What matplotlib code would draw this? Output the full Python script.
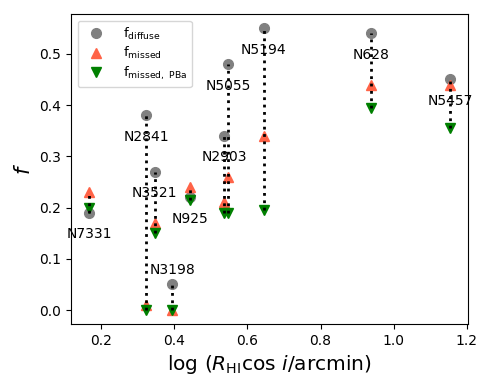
import matplotlib
matplotlib.use('Agg')
import matplotlib.pyplot as plt
import numpy as np

# Galaxy data
names = ['N7331', 'N2841', 'N3521', 'N3198', 'N925', 'N2903',
         'N5055', 'N5194', 'N628', 'N5457']
log_r = [0.167, 0.323, 0.346, 0.394, 0.442, 0.537, 0.547, 0.645, 0.937, 1.154]
f_diffuse = [0.19, 0.38, 0.27, 0.05, 0.22, 0.34, 0.48, 0.55, 0.54, 0.45]
f_missed = [0.23, 0.01, 0.17, 0.00, 0.24, 0.21, 0.26, 0.34, 0.44, 0.44]
f_missed_pba = [0.20, 0.00, 0.15, 0.00, 0.215, 0.19, 0.19, 0.195, 0.395, 0.355]

# label offset: most names sit below the diffuse point, N3198 above
label_dy = [-0.042] * len(names)
label_dy[names.index('N3198')] = 0.028

fig = plt.figure(figsize=(4.91, 3.92), dpi=100)
ax = fig.add_axes([0.145, 0.173, 0.808, 0.791])

ax.plot(log_r, f_diffuse, 'o', color='gray', markersize=7, label=r'$\rm f_{diffuse}$')
ax.plot(log_r, f_missed, '^', color='tomato', markersize=7, label=r'$\rm f_{missed}$')
ax.plot(log_r, f_missed_pba, 'v', color='green', markersize=7, label=r'$\rm f_{missed,\ PBa}$')

# dotted connectors on top of the markers
for x, a, b, c in zip(log_r, f_diffuse, f_missed, f_missed_pba):
    lo, hi = min(a, b, c), max(a, b, c)
    ax.plot([x, x], [lo, hi], ':', color='black', linewidth=2)

for x, y, dy, name in zip(log_r, f_diffuse, label_dy, names):
    ax.text(x, y + dy, name, ha='center', va='center', fontsize=10)

ax.set_xlabel(r'log ($R_{\rm HI}$cos $i$/arcmin)', fontsize=14.5)
ax.set_ylabel(r'$f$', fontsize=15)
ax.tick_params(labelsize=10)
ax.set_xticks([0.2, 0.4, 0.6, 0.8, 1.0, 1.2])
ax.set_yticks([0.0, 0.1, 0.2, 0.3, 0.4, 0.5])

ax.legend(loc='upper left', fontsize=9.5, handletextpad=1.0, borderpad=0.4,
          labelspacing=0.25)

plt.savefig('out.png', dpi=100)
plt.close(fig)
